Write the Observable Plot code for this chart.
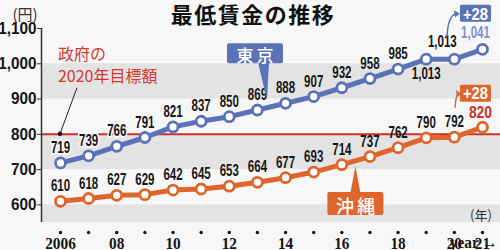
<!DOCTYPE html>
<html>
<head>
<meta charset="utf-8">
<script src="https://cdn.jsdelivr.net/npm/d3@7"></script>
<script src="https://cdn.jsdelivr.net/npm/@observablehq/plot@0.6"></script>
<style>
  html, body { margin: 0; padding: 0; background: #f7f7f7; }
  #chart { width: 500px; height: 250px; overflow: hidden; }
  #chart svg { display: block; }
</style>
</head>
<body>
<div id="chart"></div>
<script>
// Minimum wage (yen per hour), fiscal years 2006–2021
const years   = [2006, 2007, 2008, 2009, 2010, 2011, 2012, 2013, 2014, 2015, 2016, 2017, 2018, 2019, 2020, 2021];
const tokyo   = [719, 739, 766, 791, 821, 837, 850, 869, 888, 907, 932, 958, 985, 1013, 1013, 1041];
const okinawa = [610, 618, 627, 629, 642, 645, 653, 664, 677, 693, 714, 737, 762, 790, 792, 820];

// Government target for 2020
const targetWage = 800;

// Shaded background bands (yen)
const bandFrom = [550, 700, 900];
const bandTo   = [600, 800, 1000];

// Axis ticks
const yTicks = [600, 700, 800, 900, 1000, 1100];
const xTicks = [2006, 2008, 2010, 2012, 2014, 2016, 2018, 2020, 2021];

const BLUE = "#5b73b6";
const BLUE_LIGHT = "#7d93cb";
const ORANGE = "#de662c";
const RED = "#cc302b";
const RED_TEXT = "#d33a30";
const NUM_FONT = "'Liberation Sans', Arial, sans-serif";
const SERIF = "'Liberation Serif', 'DejaVu Serif', serif";
const JP = "'Noto Sans CJK JP', sans-serif";

const tokyoRows = years.map((year, i) => ({year, value: tokyo[i]}));
const okinawaRows = years.map((year, i) => ({year, value: okinawa[i]}));
const bands = bandFrom.map((lo, i) => ({lo, hi: bandTo[i]}));
const fmt = d3.format(",");
const last = years.length - 1;

// Labels that sit on the target line get a halo so the line breaks around them
const haloYears = new Set([2006, 2007, 2008]);

const labelStyle = {fontSize: 16, fontWeight: "bold", fontFamily: NUM_FONT, fill: "#151515"};

const chart = Plot.plot({
  width: 500,
  height: 250,
  marginTop: 28,
  marginBottom: 28,
  marginLeft: 41,
  marginRight: 0,
  x: {domain: [2005.325, 2021.64], axis: null},
  y: {domain: [550, 1100], axis: null},
  style: {background: "transparent", overflow: "visible"},
  marks: [
    // background bands
    Plot.rect(bands, {y1: "lo", y2: "hi", fill: "#e3e3e3"}),
    // target line
    Plot.ruleY([targetWage], {stroke: RED, strokeWidth: 2}),
    // y axis line and ticks
    Plot.ruleX([2005.325], {y1: 550, y2: 1100, stroke: "#333", strokeWidth: 1.5}),
    Plot.axisY(yTicks, {
      tickSize: 4, tickPadding: 1, tickFormat: fmt, stroke: "#333",
      fontSize: 17, fontWeight: "bold", fontFamily: NUM_FONT, fill: "#151515"
    }),
    // x axis: a dot for every year, labels for even years
    Plot.dot(years, {x: d => d, frameAnchor: "bottom", dy: 10, r: 1.7, fill: "#151515"}),
    Plot.axisX(xTicks, {
      tickSize: 0, tickPadding: 14,
      tickFormat: d => d === 2006 ? "2006" : String(d % 100).padStart(2, "0"),
      fontSize: 17, fontWeight: "bold", fontFamily: SERIF, fill: "#151515"
    }),
    // series
    Plot.line(tokyoRows, {x: "year", y: "value", stroke: BLUE, strokeWidth: 5}),
    Plot.line(okinawaRows, {x: "year", y: "value", stroke: ORANGE, strokeWidth: 5}),
    Plot.dot(tokyoRows, {x: "year", y: "value", r: 5, fill: "white", stroke: BLUE, strokeWidth: 2.8}),
    Plot.dot(okinawaRows, {x: "year", y: "value", r: 5, fill: "white", stroke: ORANGE, strokeWidth: 2.8}),
    // Tokyo value labels
    Plot.text(tokyoRows.filter(d => d.year <= 2018 && haloYears.has(d.year)), {
      x: "year", y: "value", text: d => fmt(d.value), dy: -15, ...labelStyle,
      stroke: "#f7f7f7", strokeWidth: 4
    }),
    Plot.text(tokyoRows.filter(d => d.year <= 2018 && !haloYears.has(d.year)), {
      x: "year", y: "value", text: d => fmt(d.value), dy: -15, ...labelStyle
    }),
    Plot.text([tokyoRows[last - 2]], {x: "year", y: "value", text: d => fmt(d.value), dy: 15, ...labelStyle}),
    Plot.text([tokyoRows[last - 1]], {x: "year", y: "value", text: d => fmt(d.value), dx: -12, dy: -17, ...labelStyle}),
    Plot.text([tokyoRows[last]], {x: "year", y: "value", text: d => fmt(d.value), dx: -7, dy: -16, ...labelStyle, fill: BLUE_LIGHT}),
    // Okinawa value labels
    Plot.text(okinawaRows.slice(0, last), {x: "year", y: "value", text: d => fmt(d.value), dy: -15, ...labelStyle}),
    Plot.text([okinawaRows[last]], {x: "year", y: "value", text: d => fmt(d.value), dx: -2, dy: -15, ...labelStyle, fontSize: 17, fill: RED})
  ]
});

document.getElementById("chart").append(chart);

// Narrow labels horizontally (condensed look), about each text's anchor point
function condense(node, k) {
  const t = node.getAttribute("transform") || "";
  const x = +node.getAttribute("x") || 0, y = +node.getAttribute("y") || 0;
  node.setAttribute("transform", `${t} translate(${x},${y}) scale(${k},1) translate(${-x},${-y})`);
}
d3.select(chart).selectAll("g").filter(function() {
  const f = this.getAttribute("font-family");
  return f === NUM_FONT || f === SERIF;
}).each(function() {
  const f = this.getAttribute("font-family");
  const size = parseFloat(this.getAttribute("font-size"));
  const k = f === SERIF ? 0.9 : size >= 17 ? (this.getAttribute("fill") === RED ? 0.82 : 0.9) : 0.72;
  d3.select(this).selectAll("text").each(function() { condense(this, k); });
});

// ---- annotations placed with the chart's own scales ----
const X = v => chart.scale("x").apply(v);
const Y = v => chart.scale("y").apply(v);
const svg = d3.select(chart);
const g = svg.append("g").attr("text-anchor", "start");

// title and unit labels
g.append("text").attr("x", 253).attr("y", 13).attr("text-anchor", "middle").attr("dominant-baseline", "central")
  .attr("font-family", JP).attr("font-weight", "bold").attr("font-size", 22).attr("letter-spacing", 1.5)
  .attr("fill", "#111").text("最低賃金の推移");
g.append("text").attr("x", 25).attr("y", 13).attr("text-anchor", "middle").attr("dominant-baseline", "central")
  .attr("font-family", JP).attr("font-size", 15).attr("fill", "#333").text("(円)");
g.append("text").attr("x", 481).attr("y", 214).attr("text-anchor", "middle").attr("dominant-baseline", "central")
  .attr("font-family", JP).attr("font-size", 13).attr("fill", "#333").text("(年)");

// government target note with leader line to the target line
const tx0 = X(years[0]), ty0 = Y(targetWage);
g.append("line").attr("x1", tx0 + 17).attr("y1", ty0 - 46).attr("x2", tx0).attr("y2", ty0)
  .attr("stroke", "#222").attr("stroke-width", 1);
g.append("circle").attr("cx", tx0).attr("cy", ty0).attr("r", 2.2).attr("fill", "#111");
const note = g.append("text").attr("text-anchor", "start")
  .attr("font-family", JP).attr("font-size", 16).attr("fill", RED_TEXT);
note.append("tspan").attr("x", tx0 - 2).attr("y", ty0 - 74).text("政府の");
note.append("tspan").attr("x", tx0 - 2).attr("y", ty0 - 52).text("2020年目標額");

// callout boxes naming each series
function callout(text, color, tip, box, base, fontSize) {
  g.append("path")
    .attr("d", `M${base[0]},${base[1]}L${tip[0]},${tip[1]}L${base[2]},${base[3]}Z`)
    .attr("fill", color);
  g.append("rect").attr("x", box.x).attr("y", box.y).attr("width", box.w).attr("height", box.h)
    .attr("rx", 2).attr("fill", color);
  g.append("text").attr("x", box.x + box.w / 2 + 1.5).attr("y", box.y + box.h / 2 + 1)
    .attr("text-anchor", "middle").attr("dominant-baseline", "central")
    .attr("font-family", JP).attr("font-weight", 500).attr("font-size", fontSize).attr("letter-spacing", 3)
    .attr("fill", "white").text(text);
}

const tTip = [(X(years[7]) + X(years[8])) / 2 - 4, (Y(tokyo[7]) + Y(tokyo[8])) / 2 - 6];
callout("東京", BLUE, tTip,
  {x: tTip[0] - 40, y: tTip[1] - 57, w: 56, h: 20},
  [tTip[0] - 9, tTip[1] - 38, tTip[0] + 2, tTip[1] - 38], 17);

const oTip = [(X(years[10]) + X(years[11])) / 2, (Y(okinawa[10]) + Y(okinawa[11])) / 2 + 6];
callout("沖縄", ORANGE, oTip,
  {x: oTip[0] - 28, y: oTip[1] + 26, w: 56, h: 23},
  [oTip[0] - 5, oTip[1] + 27, oTip[0] + 5, oTip[1] + 27], 18);

// year-on-year increase badges
function badge(series, color, arrowColor, dyBox, start, end) {
  const px = X(years[last]), py = Y(series[last]);
  const inc = series[last] - series[last - 1];
  const bx = px - 22, by = py + dyBox, bw = 31, bh = 17;
  g.append("rect").attr("x", bx).attr("y", by).attr("width", bw).attr("height", bh).attr("rx", 1.5).attr("fill", color);
  const label = g.append("text").attr("x", bx + bw / 2).attr("y", by + bh / 2 + 0.5)
    .attr("text-anchor", "middle").attr("dominant-baseline", "central")
    .attr("font-family", NUM_FONT).attr("font-weight", "bold").attr("font-size", 16)
    .attr("fill", "white").text("+" + inc);
  condense(label.node(), 0.92);
  const s = [px + start[0], py + start[1]], e = [px + end[0], py + end[1]];
  g.append("path")
    .attr("d", `M${s[0]},${s[1]}Q${s[0] + 1},${e[1] + 2} ${e[0] - 3},${e[1]}`)
    .attr("fill", "none").attr("stroke", arrowColor).attr("stroke-width", 1.5);
  g.append("path")
    .attr("d", `M${e[0] + 1},${e[1]}L${e[0] - 5},${e[1] - 3.5}L${e[0] - 4},${e[1] + 3.5}Z`)
    .attr("fill", arrowColor);
}
badge(tokyo, BLUE, "#5b73b6", -44, [-35, -12], [-23, -35]);
badge(okinawa, ORANGE, "#c76a3c", -42, [-27, -19], [-21, -33]);
</script>
</body>
</html>
